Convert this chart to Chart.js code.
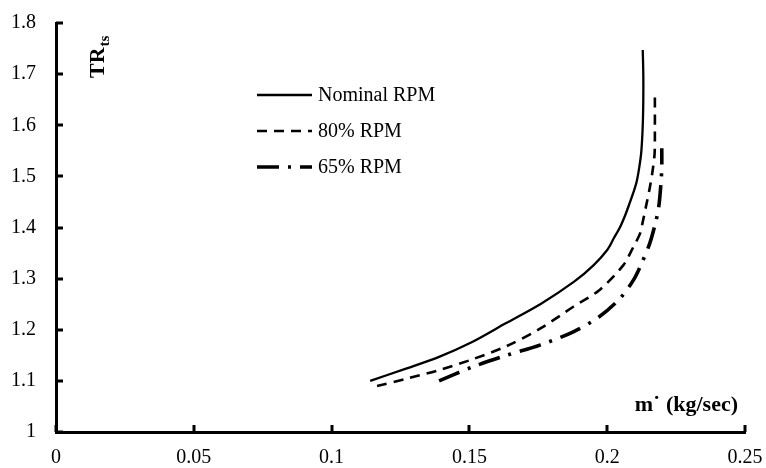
<!DOCTYPE html>
<html>
<head>
<meta charset="utf-8">
<script src="https://cdn.jsdelivr.net/npm/chart.js@4"></script>
<style>
html,body{margin:0;padding:0;background:#fff;}
canvas{display:block;}
</style>
</head>
<body>
<canvas id="c" width="766" height="468"></canvas>
<script>
// ---- data ----
const seriesNames = ["Nominal RPM", "80% RPM", "65% RPM"];

const nominalX = [0.114, 0.127, 0.139, 0.151, 0.163, 0.176, 0.188, 0.195, 0.200, 0.2025, 0.2046, 0.2066, 0.2083, 0.2096, 0.2107, 0.2117, 0.2124, 0.2129, 0.2131, 0.2131, 0.2129];
const nominalY = [1.100, 1.124, 1.147, 1.176, 1.212, 1.251, 1.294, 1.326, 1.356, 1.380, 1.400, 1.425, 1.450, 1.470, 1.490, 1.520, 1.550, 1.600, 1.650, 1.700, 1.747];

const rpm80X = [0.1165, 0.127, 0.139, 0.151, 0.1635, 0.1756, 0.1877, 0.197, 0.2058, 0.2095, 0.2119, 0.2129, 0.2143, 0.2155, 0.2165, 0.2172, 0.2173, 0.2173];
const rpm80Y = [1.090, 1.104, 1.121, 1.142, 1.168, 1.202, 1.245, 1.277, 1.326, 1.362, 1.388, 1.411, 1.447, 1.479, 1.512, 1.545, 1.590, 1.663];

const rpm65X = [0.139, 0.151, 0.1635, 0.1756, 0.1877, 0.197, 0.2046, 0.2095, 0.2125, 0.2155, 0.2177, 0.2187, 0.2195, 0.2198, 0.2198];
const rpm65Y = [1.100, 1.127, 1.150, 1.170, 1.196, 1.225, 1.261, 1.297, 1.330, 1.370, 1.413, 1.440, 1.486, 1.520, 1.555];

const xTicks = [0, 0.05, 0.1, 0.15, 0.2, 0.25];
const yTicks = [1, 1.1, 1.2, 1.3, 1.4, 1.5, 1.6, 1.7, 1.8];
const xTickLabels = ["0", "0.05", "0.1", "0.15", "0.2", "0.25"];
const yTickLabels = ["1", "1.1", "1.2", "1.3", "1.4", "1.5", "1.6", "1.7", "1.8"];

const xTitle = "m\u02D9 (kg/sec)";
const yTitleMain = "TR";
const yTitleSub = "ts";

// ---- styles ----
const FONT = '"Liberation Serif", "Times New Roman", serif';
const styles = [
  {width: 2.3, dash: []},
  {width: 2.6, dash: [10, 7]},
  {width: 3.6, dash: [22, 9, 3, 9]}
];
const xsList = [nominalX, rpm80X, rpm65X];
const ysList = [nominalY, rpm80Y, rpm65Y];

const datasets = seriesNames.map((name, i) => ({
  label: name,
  data: xsList[i].map((x, j) => ({x: x, y: ysList[i][j]})),
  showLine: true,
  borderColor: '#000',
  backgroundColor: '#000',
  borderWidth: styles[i].width,
  borderDash: styles[i].dash,
  pointRadius: 0,
  pointHoverRadius: 0,
  tension: 0.3,
  fill: false
}));

const decorPlugin = {
  id: 'decor',
  afterDraw(chart) {
    const ctx = chart.ctx;
    const xs = chart.scales.x, ys = chart.scales.y;
    const ca = chart.chartArea;
    ctx.save();
    // inward tick marks
    ctx.strokeStyle = '#000';
    ctx.lineWidth = 3;
    ctx.setLineDash([]);
    ctx.beginPath();
    xTicks.forEach(v => {
      const px = Math.round(xs.getPixelForValue(v));
      ctx.moveTo(px, ca.bottom);
      ctx.lineTo(px, ca.bottom - 7);
    });
    yTicks.forEach(v => {
      const py = Math.round(ys.getPixelForValue(v));
      ctx.moveTo(ca.left, py);
      ctx.lineTo(ca.left + 7, py);
    });
    ctx.stroke();

    // legend
    const lx0 = 257, lx1 = 312, tx = 318;
    const ly = [95, 131, 167];
    ctx.font = '20px ' + FONT;
    ctx.fillStyle = '#000';
    ctx.textBaseline = 'middle';
    ctx.textAlign = 'left';
    seriesNames.forEach((name, i) => {
      ctx.beginPath();
      ctx.lineWidth = styles[i].width;
      ctx.setLineDash(styles[i].dash);
      ctx.moveTo(lx0, ly[i]);
      ctx.lineTo(lx1, ly[i]);
      ctx.stroke();
      ctx.setLineDash([]);
      ctx.fillText(name, tx, ly[i] + 1);
    });

    // x axis title
    ctx.font = 'bold 22px ' + FONT;
    ctx.textAlign = 'right';
    ctx.textBaseline = 'alphabetic';
    ctx.fillText(xTitle, 738, 411);

    // y axis title (rotated, with subscript)
    ctx.translate(104, 78);
    ctx.rotate(-Math.PI / 2);
    ctx.textAlign = 'left';
    ctx.font = 'bold 22px ' + FONT;
    ctx.fillText(yTitleMain, 0, 0);
    const w = ctx.measureText(yTitleMain).width;
    ctx.font = 'bold 15px ' + FONT;
    ctx.fillText(yTitleSub, w + 1, 5);
    ctx.restore();
  }
};

new Chart(document.getElementById('c'), {
  type: 'scatter',
  data: {datasets: datasets},
  options: {
    responsive: false,
    devicePixelRatio: 1,
    animation: false,
    events: [],
    layout: {padding: {left: 0, right: 21, top: 23, bottom: 0}},
    plugins: {legend: {display: false}, tooltip: {enabled: false}},
    scales: {
      x: {
        type: 'linear',
        min: 0, max: 0.25,
        afterBuildTicks: s => { s.ticks = xTicks.map(v => ({value: v})); },
        afterFit: s => { s.height = 36; s.paddingLeft = 0; s.paddingRight = 0; },
        grid: {display: false, drawTicks: false},
        border: {display: true, color: '#000', width: 3},
        ticks: {
          padding: 14,
          color: '#000',
          font: {family: FONT, size: 20},
          maxRotation: 0,
          autoSkip: false,
          callback: (v, i) => xTickLabels[i]
        }
      },
      y: {
        type: 'linear',
        min: 1, max: 1.8,
        afterBuildTicks: s => { s.ticks = yTicks.map(v => ({value: v})); },
        afterFit: s => { s.width = 56; s.paddingTop = 0; s.paddingBottom = 0; },
        grid: {display: false, drawTicks: false},
        border: {display: true, color: '#000', width: 3},
        ticks: {
          padding: 20,
          color: '#000',
          font: {family: FONT, size: 20},
          autoSkip: false,
          callback: (v, i) => yTickLabels[i]
        }
      }
    }
  },
  plugins: [decorPlugin]
});
</script>
</body>
</html>
